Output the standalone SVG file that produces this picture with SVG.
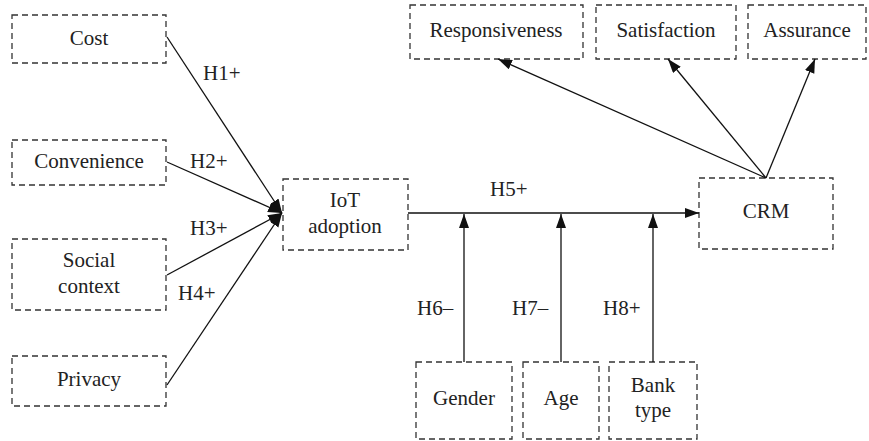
<svg xmlns="http://www.w3.org/2000/svg" width="869" height="441" viewBox="0 0 869 441">
<style>
.box{fill:none;stroke:#333;stroke-width:1.3;stroke-dasharray:6 4}
text{font-family:'Liberation Serif','DejaVu Serif','Times New Roman',serif;font-size:21px;fill:#222}
.t{text-anchor:middle}
.c{fill:none;stroke:#111;stroke-width:1.3}
</style>
<defs>
<marker id="ah" markerUnits="userSpaceOnUse" markerWidth="15" markerHeight="11" refX="14" refY="5" orient="auto">
<path d="M0,0 L14,5 L0,10 z" fill="#111"/>
</marker>
</defs>
<rect width="869" height="441" fill="#fff"/>
<g font-family="Liberation Serif, serif">
<g id="cost"><rect class="box" x="12" y="15" width="154" height="48"/><text class="t" x="89" y="45">Cost</text></g>
<g id="convenience"><rect class="box" x="12" y="140" width="154" height="45"/><text class="t" x="89" y="168">Convenience</text></g>
<g id="social"><rect class="box" x="12" y="239" width="154" height="71"/><text class="t" x="89" y="267">Social</text><text class="t" x="89" y="293">context</text></g>
<g id="privacy"><rect class="box" x="12" y="356" width="154" height="50"/><text class="t" x="89" y="386">Privacy</text></g>
<g id="iot"><rect class="box" x="283" y="179" width="125" height="71"/><text class="t" x="345" y="207">IoT</text><text class="t" x="345" y="233">adoption</text></g>
<g id="crm"><rect class="box" x="699" y="178" width="134" height="71"/><text class="t" x="766" y="218">CRM</text></g>
<g id="responsiveness"><rect class="box" x="410" y="5" width="173" height="54"/><text class="t" x="496" y="37">Responsiveness</text></g>
<g id="satisfaction"><rect class="box" x="596" y="5" width="140" height="54"/><text class="t" x="666" y="37">Satisfaction</text></g>
<g id="assurance"><rect class="box" x="748" y="5" width="118" height="54"/><text class="t" x="807" y="37">Assurance</text></g>
<g id="gender"><rect class="box" x="416" y="362" width="96" height="77"/><text class="t" x="464" y="405">Gender</text></g>
<g id="age"><rect class="box" x="523" y="362" width="76" height="77"/><text class="t" x="561" y="405">Age</text></g>
<g id="banktype"><rect class="box" x="609" y="362" width="88" height="77"/><text class="t" x="653" y="392">Bank</text><text class="t" x="653" y="417">type</text></g>
<g id="connectors">
<line class="c" x1="167" y1="37" x2="282" y2="213" marker-end="url(#ah)"/>
<line class="c" x1="167" y1="162" x2="282" y2="213" marker-end="url(#ah)"/>
<line class="c" x1="167" y1="275" x2="282" y2="213" marker-end="url(#ah)"/>
<line class="c" x1="167" y1="385" x2="282" y2="213" marker-end="url(#ah)"/>
<line class="c" x1="408" y1="213" x2="699" y2="213" marker-end="url(#ah)"/>
<line class="c" x1="464" y1="362" x2="464" y2="214" marker-end="url(#ah)"/>
<line class="c" x1="561" y1="362" x2="561" y2="214" marker-end="url(#ah)"/>
<line class="c" x1="653" y1="362" x2="653" y2="214" marker-end="url(#ah)"/>
<line class="c" x1="766" y1="178" x2="498" y2="59" marker-end="url(#ah)"/>
<line class="c" x1="766" y1="178" x2="668" y2="59" marker-end="url(#ah)"/>
<line class="c" x1="766" y1="178" x2="815" y2="59" marker-end="url(#ah)"/>
</g>
<g id="labels">
<text x="203" y="80">H1+</text>
<text x="190" y="168">H2+</text>
<text x="190" y="235">H3+</text>
<text x="178" y="300">H4+</text>
<text x="490" y="196">H5+</text>
<text x="417" y="315">H6–</text>
<text x="512" y="315">H7–</text>
<text x="603" y="315">H8+</text>
</g>
</g>
</svg>
